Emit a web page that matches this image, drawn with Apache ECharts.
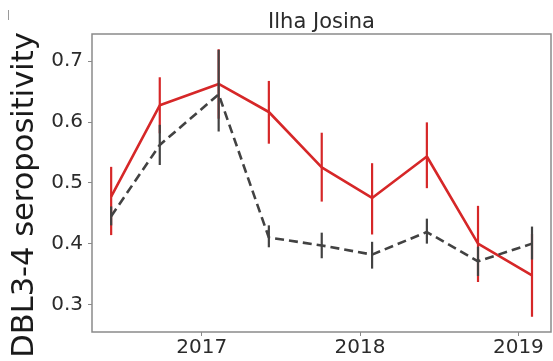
<!DOCTYPE html>
<html><head><meta charset="utf-8">
<script src="https://cdn.jsdelivr.net/npm/echarts@6/dist/echarts.min.js"></script>
<style>html,body{margin:0;padding:0;background:#fff}#c{width:553px;height:361px}</style>
</head><body><div id="c"></div>
<script>
// Survey dates (decimal years)
const dates = [2016.428, 2016.735, 2017.107, 2017.424, 2017.758, 2018.076, 2018.422, 2018.745, 2019.086];
// Red series (solid): mean, lower, upper
const redMean = [0.477, 0.627, 0.662, 0.616, 0.525, 0.475, 0.543, 0.400, 0.348];
const redLow  = [0.414, 0.581, 0.605, 0.564, 0.469, 0.415, 0.491, 0.337, 0.280];
const redHigh = [0.526, 0.673, 0.719, 0.667, 0.582, 0.532, 0.599, 0.462, 0.416];
// Grey series (dashed): mean, lower, upper
const greyMean = [0.445, 0.562, 0.645, 0.410, 0.397, 0.382, 0.419, 0.371, 0.400];
const greyLow  = [0.430, 0.529, 0.584, 0.394, 0.376, 0.359, 0.400, 0.347, 0.374];
const greyHigh = [0.461, 0.595, 0.718, 0.430, 0.418, 0.403, 0.441, 0.395, 0.428];
// Tick labels
const yTicks = [0.3, 0.4, 0.5, 0.6, 0.7];
const xTicks = [2017, 2018, 2019];
const title = 'Ilha Josina';
const yLabel = 'DBL3-4 seropositivity';

const RED = '#d62728', GREY = '#424242';
const FONT = 'DejaVu Sans';

function pairs(xs, ys){ return xs.map((x,i)=>[x, ys[i]]); }
function errData(xs, lo, hi){ return xs.map((x,i)=>[x, lo[i], hi[i]]); }
function errSeries(data, color, z){
  return {
    type:'custom', z:z, silent:true,
    data:data,
    encode:{x:0, y:[1,2]},
    renderItem:function(params, api){
      const p1 = api.coord([api.value(0), api.value(1)]);
      const p2 = api.coord([api.value(0), api.value(2)]);
      return {type:'line', shape:{x1:p1[0], y1:p1[1], x2:p2[0], y2:p2[1]},
              style:{stroke:color, lineWidth:2.2}};
    }
  };
}

const chart = echarts.init(document.getElementById('c'), null, {renderer:'canvas'});
chart.setOption({
  animation:false,
  backgroundColor:'#fff',
  title:{text:title, left:321.5, textAlign:'center', top:12, padding:0,
         textStyle:{fontFamily:FONT, fontSize:21, fontWeight:'normal', color:'#2b2b2b'}},
  grid:{left:92, right:2, top:34, bottom:29, show:true, borderColor:'#8a8a8a', borderWidth:1.5, backgroundColor:'transparent'},
  xAxis:{type:'value', min:2016.307, max:2019.206,
    axisLine:{show:false}, splitLine:{show:false},
    axisTick:{show:true, length:4, lineStyle:{color:'#8a8a8a'}, customValues:xTicks},
    axisLabel:{fontFamily:FONT, fontSize:20, color:'#2b2b2b', margin:6, customValues:xTicks,
               formatter:v=>String(Math.round(v))}},
  yAxis:{type:'value', min:0.255, max:0.744,
    axisLine:{show:false}, splitLine:{show:false},
    axisTick:{show:true, length:4, lineStyle:{color:'#8a8a8a'}, customValues:yTicks},
    axisLabel:{fontFamily:FONT, fontSize:20, color:'#2b2b2b', margin:9, customValues:yTicks,
               formatter:v=>v.toFixed(1)}},
  graphic:[
    {type:'text', x:25, y:195, rotation:Math.PI/2,
     style:{text:yLabel, fontFamily:FONT, fontSize:30.5, fill:'#1a1a1a', align:'center', verticalAlign:'middle'}},
    {type:'line', shape:{x1:8.5, y1:10, x2:8.5, y2:20}, style:{stroke:'#9a9a9a', lineWidth:1}}
  ],
  series:[
    {type:'line', data:pairs(dates, redMean), showSymbol:false, z:2,
     lineStyle:{color:RED, width:2.6}},
    errSeries(errData(dates, redLow, redHigh), RED, 3),
    {type:'line', data:pairs(dates, greyMean), showSymbol:false, z:4,
     lineStyle:{color:GREY, width:2.6, type:[9,5]}},
    errSeries(errData(dates, greyLow, greyHigh), GREY, 5)
  ]
});
</script></body></html>
